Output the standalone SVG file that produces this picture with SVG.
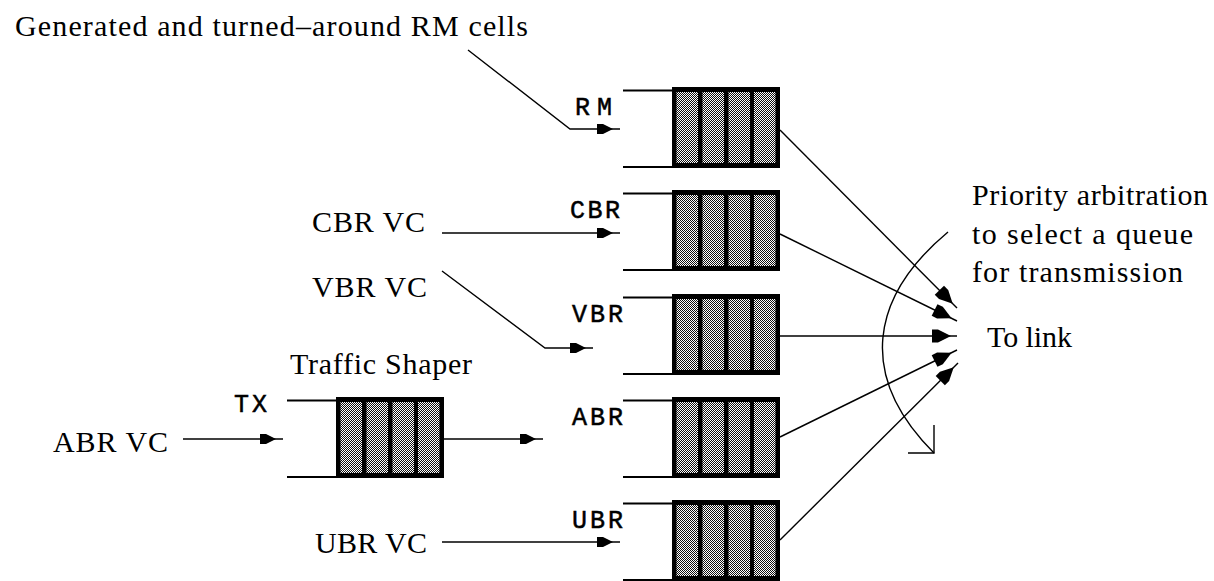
<svg xmlns="http://www.w3.org/2000/svg" xmlns:xlink="http://www.w3.org/1999/xlink" width="1214" height="581" viewBox="0 0 1214 581">
<style>
.serif{font-family:"Liberation Serif","Times New Roman",serif;font-size:30px;fill:#000}
.mono{font-family:"Liberation Mono","Courier New",monospace;font-size:25px;fill:#000;stroke:#000;stroke-width:0.5}
.ln{fill:none;stroke:#000;stroke-width:1.4}
.rail{stroke:#000;stroke-width:2}
</style>
<defs>
<pattern id="dots" width="2" height="2" patternUnits="userSpaceOnUse">
<rect width="2" height="2" fill="#fff"/>
<rect width="1" height="1" fill="#111"/>
<rect x="1" y="1" width="1" height="1" fill="#111"/>
</pattern>
<marker id="sa" markerUnits="userSpaceOnUse" markerWidth="30" markerHeight="20" refX="0" refY="0" orient="auto" overflow="visible">
<path d="M-23,-5 L-17,-5 L-7,0 L-17,5 L-23,5 Z" fill="#000"/>
</marker>
<marker id="la" markerUnits="userSpaceOnUse" markerWidth="30" markerHeight="20" refX="0" refY="0" orient="auto" overflow="visible">
<path d="M-25,-6.5 L-19,-6.5 L-6,0 L-19,6.5 L-25,6.5 Z" fill="#000"/>
</marker>
<g id="queue">
<line class="rail" x1="-49" y1="3.5" x2="0" y2="3.5"/>
<line class="rail" x1="-49" y1="80" x2="0" y2="80"/>
<rect x="0" y="0" width="108" height="81" fill="#000"/>
<rect x="4.5" y="5" width="21.5" height="71" fill="url(#dots)"/>
<rect x="30.5" y="5" width="21.5" height="71" fill="url(#dots)"/>
<rect x="56.5" y="5" width="21.5" height="71" fill="url(#dots)"/>
<rect x="82" y="5" width="21.5" height="71" fill="url(#dots)"/>
</g>
</defs>
<rect width="1214" height="581" fill="#fff"/>

<g id="rm-source">
<text class="serif" x="15" y="36" textLength="513" lengthAdjust="spacing">Generated and turned–around RM cells</text>
</g>
<g id="cbr-vc"><text class="serif" x="312" y="232" textLength="113" lengthAdjust="spacing">CBR VC</text></g>
<g id="vbr-vc"><text class="serif" x="312" y="297" textLength="115" lengthAdjust="spacing">VBR VC</text></g>
<g id="abr-vc"><text class="serif" x="53" y="452" textLength="115" lengthAdjust="spacing">ABR VC</text></g>
<g id="ubr-vc"><text class="serif" x="315" y="553" textLength="112" lengthAdjust="spacing">UBR VC</text></g>

<g id="traffic-shaper">
<text class="serif" x="290" y="374" textLength="182" lengthAdjust="spacing">Traffic Shaper</text>
<text class="mono" x="234" y="412" textLength="33" lengthAdjust="spacing">TX</text>
<use xlink:href="#queue" href="#queue" transform="translate(336,397)"/>
</g>

<g id="queue-rm">
<text class="mono" x="575" y="115" textLength="37" lengthAdjust="spacing">RM</text>
<use xlink:href="#queue" href="#queue" transform="translate(672,87)"/>
</g>
<g id="queue-cbr">
<text class="mono" x="570" y="218" textLength="50" lengthAdjust="spacing">CBR</text>
<use xlink:href="#queue" href="#queue" transform="translate(672,190)"/>
</g>
<g id="queue-vbr">
<text class="mono" x="572" y="322" textLength="51" lengthAdjust="spacing">VBR</text>
<use xlink:href="#queue" href="#queue" transform="translate(672,294)"/>
</g>
<g id="queue-abr">
<text class="mono" x="572" y="425" textLength="51" lengthAdjust="spacing">ABR</text>
<use xlink:href="#queue" href="#queue" transform="translate(672,397)"/>
</g>
<g id="queue-ubr">
<text class="mono" x="572" y="528" textLength="51" lengthAdjust="spacing">UBR</text>
<use xlink:href="#queue" href="#queue" transform="translate(672,500)"/>
</g>

<g id="arbitration">
<text class="serif" x="972" y="205" textLength="236" lengthAdjust="spacing">Priority arbitration</text>
<text class="serif" x="972" y="244" textLength="221" lengthAdjust="spacing">to select a queue</text>
<text class="serif" x="972" y="282" textLength="211" lengthAdjust="spacing">for transmission</text>
</g>
<g id="to-link">
<text class="serif" x="987" y="347" textLength="85" lengthAdjust="spacing">To link</text>
</g>

<g id="connectors">
<path class="ln" d="M468,50 L570,129 L620,129" marker-end="url(#sa)"/>
<path class="ln" d="M442,233 L620,233" marker-end="url(#sa)"/>
<path class="ln" d="M442,271 L545,348 L593,348" marker-end="url(#sa)"/>
<path class="ln" d="M183,439 L283,439" marker-end="url(#sa)"/>
<path class="ln" d="M444,439 L543,439" marker-end="url(#sa)"/>
<path class="ln" d="M442,542 L620,542" marker-end="url(#sa)"/>
<path class="ln" d="M780,130 L957,308" marker-end="url(#la)"/>
<path class="ln" d="M780,234 L957,321" marker-end="url(#la)"/>
<path class="ln" d="M780,336 L957,336" marker-end="url(#la)"/>
<path class="ln" d="M780,437 L957,350" marker-end="url(#la)"/>
<path class="ln" d="M780,540 L958,363" marker-end="url(#la)"/>
<path class="ln" d="M948,232 C870,297 857,376 934,453"/>
<path class="ln" stroke-width="2" d="M934,425 L934,453 L908,453"/>
</g>
</svg>
